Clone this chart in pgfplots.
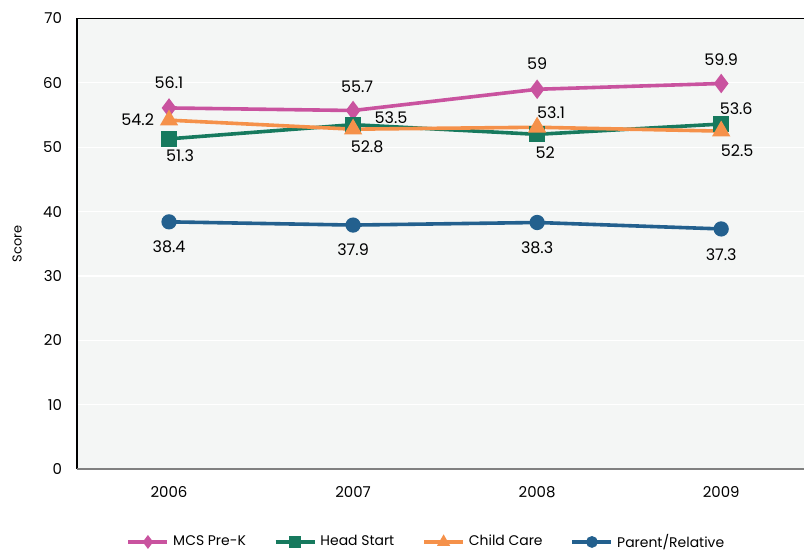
\documentclass[border=0pt]{standalone}
\usepackage{pgfplots}
\pgfplotsset{compat=1.18}
\usepackage{fontspec}
\setmainfont{Poppins}
\definecolor{mcs}{HTML}{C9539F}
\definecolor{head}{HTML}{177A5E}
\definecolor{care}{HTML}{F5914A}
\definecolor{parent}{HTML}{23608E}
\definecolor{bgc}{HTML}{F4F6F5}
\newcommand{\lbl}{\fontsize{8}{9.6}\selectfont}
\begin{document}
\begin{tikzpicture}
\begin{axis}[
  scale only axis, width=363.5bp, height=225.25bp,
  xmin=-0.5, xmax=3.45, ymin=0, ymax=70,
  xtick={0,1,2,3}, xticklabels={2006,2007,2008,2009},
  ytick={0,10,...,70},
  axis background/.style={fill=bgc},
  ymajorgrids, major grid style={white, line width=0.6bp},
  axis line style={draw=none}, tick style={draw=none},
  clip=false,
  /pgf/number format/assume math mode=true,
  tick label style={font=\fontsize{7.5}{9}\selectfont},
  yticklabel style={xshift=-4bp},
  xticklabel style={yshift=-5bp},
  ylabel={Score},
  ylabel style={font=\fontsize{6.5}{8}\selectfont, at={(axis description cs:-0.0825,0.5)}, anchor=center},
  legend style={at={(axis description cs:0.482,-0.162)}, anchor=center,
    draw=none, fill=none, font=\fontsize{7}{8.4}\selectfont,
    /tikz/every even column/.append style={column sep=12bp}},
  legend columns=4,
  legend image code/.code={%
    \draw[#1, mark=none] (0bp,0bp) -- (19.5bp,0bp);
    \draw[#1, mark size=2bp] plot coordinates {(9.75bp,0bp)};},
  every axis plot/.append style={line width=1.8bp},
]
\addplot[color=mcs, mark=diamond*, mark size=3.4bp] coordinates {(0,56.1) (1,55.7) (2,59) (3,59.9)};
\addplot[color=head, mark=square*, mark size=3.1bp] coordinates {(0,51.3) (1,53.5) (2,52) (3,53.6)};
\addplot[color=care, mark=triangle*, mark size=3.5bp] coordinates {(0,54.2) (1,52.8) (2,53.1) (3,52.5)};
\addplot[color=parent, mark=*, mark size=2.9bp] coordinates {(0,38.4) (1,37.9) (2,38.3) (3,37.3)};
\legend{MCS Pre-K, Head Start, Child Care, Parent/Relative}
% value labels
\node[font=\lbl] at (axis cs:0,56.1) [yshift=12.5bp] {56.1};
\node[font=\lbl] at (axis cs:1,55.7) [yshift=12bp, xshift=2bp] {55.7};
\node[font=\lbl] at (axis cs:2,59) [yshift=13bp] {59};
\node[font=\lbl] at (axis cs:3,59.9) [yshift=12bp] {59.9};
\node[font=\lbl, anchor=east] at (axis cs:0,54.2) [xshift=-4bp] {54.2};
\node[font=\lbl] at (axis cs:0,51.3) [xshift=5.5bp, yshift=-8.5bp] {51.3};
\node[font=\lbl] at (axis cs:1,53.5) [xshift=19bp, yshift=3.5bp] {53.5};
\node[font=\lbl] at (axis cs:1,52.8) [xshift=7bp, yshift=-9bp] {52.8};
\node[font=\lbl] at (axis cs:2,53.1) [xshift=7bp, yshift=7.5bp] {53.1};
\node[font=\lbl] at (axis cs:2,52) [xshift=4bp, yshift=-9bp] {52};
\node[font=\lbl] at (axis cs:3,53.6) [xshift=7.5bp, yshift=7.5bp] {53.6};
\node[font=\lbl] at (axis cs:3,52.5) [xshift=8bp, yshift=-10bp] {52.5};
\node[font=\lbl] at (axis cs:0,38.4) [yshift=-12.5bp] {38.4};
\node[font=\lbl] at (axis cs:1,37.9) [yshift=-12.5bp] {37.9};
\node[font=\lbl] at (axis cs:2,38.3) [yshift=-12.5bp] {38.3};
\node[font=\lbl] at (axis cs:3,37.3) [yshift=-13bp] {37.3};
% frame: black left and top, grey baseline
\draw[black, line width=0.6bp] (rel axis cs:0,0) -- (rel axis cs:0,1) -- (rel axis cs:1,1);
\draw[gray, line width=1bp] (rel axis cs:0,0) -- (rel axis cs:1,0);
\end{axis}
\pgfresetboundingbox
\path[use as bounding box] ([xshift=-38.5bp,yshift=-41.5bp]current axis.south west) rectangle ([yshift=9.25bp]current axis.north east);
\end{tikzpicture}
\end{document}
